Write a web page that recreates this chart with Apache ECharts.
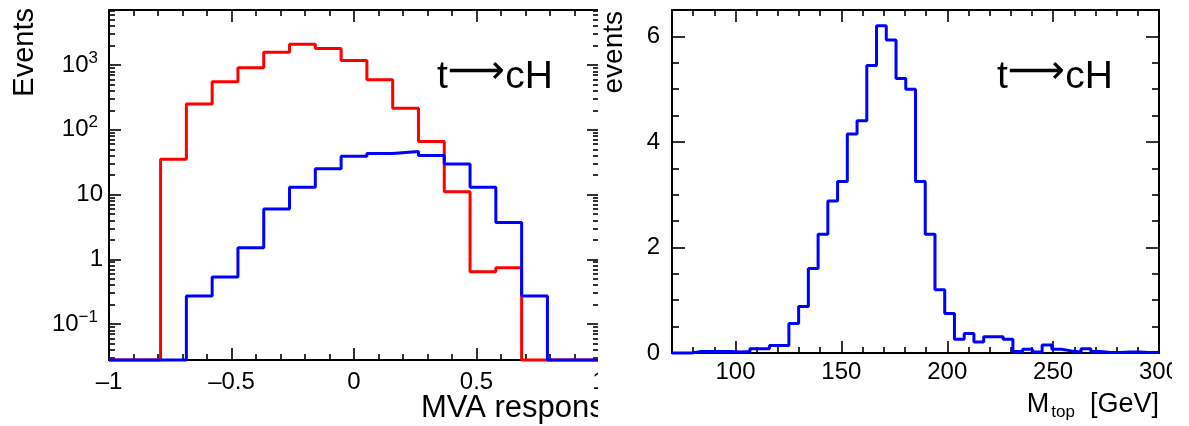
<!DOCTYPE html>
<html>
<head>
<meta charset="utf-8">
<script src="https://cdn.jsdelivr.net/npm/echarts@6/dist/echarts.min.js"></script>
<style>
  html, body { margin: 0; padding: 0; background: #fff; }
  #wrapL { position: absolute; left: 0; top: 0; width: 598px; height: 426px; overflow: hidden; }
  #wrapR { position: absolute; left: 598px; top: 0; width: 574px; height: 426px; overflow: hidden; }
  #mva  { width: 680px; height: 426px; }
  #mtop { width: 640px; height: 426px; }
</style>
</head>
<body>
<div id="wrapL"><div id="mva"></div></div>
<div id="wrapR"><div id="mtop"></div></div>
<script>
// ---- MVA response: 19 equal bins over [-1, 1] ----
const mvaRange = [-1, 1];
const mvaBackground = [0, 0, 35, 250, 550, 910, 1570, 2100, 1800, 1170, 590, 215, 66, 11, 0.64, 0.74, 0, 0, 0];
const mvaSignal     = [0, 0, 0, 0.27, 0.53, 1.5, 6.0, 13, 25, 39, 43, 46, 40, 29.5, 13, 3.7, 0.27, 0, 0];
const mvaTicks   = [-1, -0.5, 0, 0.5, 1];
const logDecades = [-1, 0, 1, 2, 3];
const logRange   = [-1.556, 3.85];   // log10(Events) shown on the vertical axis

// ---- Reconstructed top mass: 50 equal bins over [70, 300] GeV ----
const mtopRange = [70, 300];
const mtopEvents = [
  0, 0, 0.03, 0.03, 0.03, 0.03, 0.02, 0.03, 0.08, 0.08,
  0.14, 0.14, 0.56, 0.88, 1.6, 2.25, 2.88, 3.25, 4.15, 4.4,
  5.45, 6.2, 5.93, 5.2, 5.0, 3.25, 2.25, 1.2, 0.75, 0.26,
  0.37, 0.21, 0.31, 0.31, 0.26, 0.03, 0.07, 0.02, 0.15, 0.07,
  0.04, 0.02, 0.08, 0.03, 0.01, 0.01, 0.02, 0.02, 0.01, 0.01
];
const mtopTicks  = [100, 150, 200, 250, 300];
const mtopMinorStep = 10;
const eventTicks = [0, 2, 4, 6];
const eventRange = [0, 6.5];
const eventMinorStep = 0.5;

const FONT = 'Liberation Sans';
const BLACK = '#000';
const LABEL_SIZE = 24;

// Outline of a histogram as a stepped polyline through the bin edges.
function stepData(range, values, transform) {
  const n = values.length;
  const w = (range[1] - range[0]) / n;
  const pts = values.map((v, k) => [range[0] + k * w, transform(v)]);
  pts.push([range[1], transform(values[n - 1])]);
  return pts;
}
const toLog = v => (v > 0 ? Math.log10(v) : logRange[0]);
const identity = v => v;

function histSeries(data, color) {
  return {
    type: 'line', step: 'end', data, symbol: 'none', showSymbol: false,
    clip: false, silent: true, animation: false,
    lineStyle: { color, width: 3 }, z: 3
  };
}

// Axis factory: frame line, inward ticks at given values, optional labels.
function frameAxis(position, range, ticks, len, opts) {
  opts = opts || {};
  return {
    type: 'value', position, min: range[0], max: range[1],
    axisLine: { show: !!opts.line, onZero: false, lineStyle: { color: BLACK, width: 2 } },
    axisTick: { show: true, inside: true, length: len, customValues: ticks,
                lineStyle: { color: BLACK, width: 1.6 } },
    axisLabel: opts.labels ? Object.assign({
      show: true, customValues: ticks, color: BLACK, fontSize: LABEL_SIZE, fontFamily: FONT
    }, opts.labels) : { show: false },
    splitLine: { show: false },
    z: 1
  };
}

function rangeSteps(range, step, skip) {
  const out = [];
  for (let v = range[0] + step; v < range[1] + 1e-9; v += step) {
    const r = Math.round(v * 1000) / 1000;
    if (!skip.some(s => Math.abs(s - r) < 1e-9)) out.push(r);
  }
  return out;
}

// "t→cH" process tag, with a long arrow
function processTag(x, y) {
  return {
    type: 'text', x, y,
    style: {
      text: '{t|t}{a|\u27F6}{t|cH}', textAlign: 'left', textVerticalAlign: 'middle',
      rich: {
        t: { fontSize: 39, fontFamily: FONT, fill: BLACK },
        a: { fontSize: 40, fontFamily: 'DejaVu Sans', fill: BLACK, padding: [0, 0, 9, 0] }
      }
    }
  };
}

// ================= left: MVA response (log scale) =================
const mvaMinor = rangeSteps(mvaRange, 0.1, mvaTicks).filter(v => v > mvaRange[0]);
const logMinor = [];
for (let d = -2; d <= 3; d++) {
  for (let k = 2; k <= 9; k++) {
    const v = d + Math.log10(k);
    if (v > logRange[0] && v < logRange[1]) logMinor.push(v);
  }
}
const decadeText = {
  '-1': '{b|10}{s|\u22121}{g|}',
  '0': '{b|1}',
  '1': '{b|10}',
  '2': '{b|10}{s|2}{g|}',
  '3': '{b|10}{s|3}{g|}'
};
const decadeRich = {
  b: { fontSize: LABEL_SIZE, fontFamily: FONT, color: BLACK },
  s: { fontSize: 17, fontFamily: FONT, color: BLACK, padding: [0, 0, 14, 0] },
  g: { width: 5 }
};

const mvaChart = echarts.init(document.getElementById('mva'), null, { renderer: 'canvas' });
mvaChart.setOption({
  animation: false,
  backgroundColor: '#fff',
  grid: { left: 109, top: 10, width: 490, height: 350, containLabel: false },
  xAxis: [
    frameAxis('bottom', mvaRange, mvaTicks, 12, {
      line: true,
      labels: { margin: 10, formatter: v => String(v).replace('-', '\u2013') }
    }),
    frameAxis('bottom', mvaRange, mvaMinor, 6),
    frameAxis('top', mvaRange, mvaTicks, 12, { line: true }),
    frameAxis('top', mvaRange, mvaMinor, 6)
  ],
  yAxis: [
    frameAxis('left', logRange, logDecades, 12, {
      line: true,
      labels: { margin: 6, formatter: v => decadeText[String(Math.round(v))], rich: decadeRich }
    }),
    frameAxis('left', logRange, logMinor, 6),
    frameAxis('right', logRange, logDecades, 12, { line: true }),
    frameAxis('right', logRange, logMinor, 6)
  ],
  series: [
    histSeries(stepData(mvaRange, mvaBackground, toLog), '#ff0000'),
    histSeries(stepData(mvaRange, mvaSignal, toLog), '#0000ff')
  ],
  graphic: [
    { type: 'text', x: 25, y: 8, rotation: Math.PI / 2,
      style: { text: 'Events', font: '29px "Liberation Sans"', fill: BLACK,
               textAlign: 'right', textVerticalAlign: 'middle' } },
    { type: 'text', x: 421, y: 408,
      style: { text: 'MVA response', font: '31px "Liberation Sans"', fill: BLACK,
               textAlign: 'left', textVerticalAlign: 'middle' } },
    processTag(437, 77)
  ]
});

// ================= right: reconstructed top mass =================
const mtopMinor = rangeSteps([mtopRange[0] - mtopRange[0] % mtopMinorStep, mtopRange[1]], mtopMinorStep, mtopTicks)
  .filter(v => v > mtopRange[0] && v < mtopRange[1]);
const eventMinor = rangeSteps(eventRange, eventMinorStep, eventTicks);

const mtopChart = echarts.init(document.getElementById('mtop'), null, { renderer: 'canvas' });
mtopChart.setOption({
  animation: false,
  backgroundColor: '#fff',
  grid: { left: 74, top: 10, width: 487, height: 343, containLabel: false },
  xAxis: [
    frameAxis('bottom', mtopRange, mtopTicks, 12, { line: true, labels: { margin: 7 } }),
    frameAxis('bottom', mtopRange, mtopMinor, 6),
    frameAxis('top', mtopRange, mtopTicks, 12, { line: true }),
    frameAxis('top', mtopRange, mtopMinor, 6)
  ],
  yAxis: [
    frameAxis('left', eventRange, eventTicks, 13, { line: true, labels: { margin: 12 } }),
    frameAxis('left', eventRange, eventMinor, 7),
    frameAxis('right', eventRange, eventTicks, 13, { line: true }),
    frameAxis('right', eventRange, eventMinor, 7)
  ],
  series: [
    histSeries(stepData(mtopRange, mtopEvents, identity), '#0000ff')
  ],
  graphic: [
    { type: 'text', x: 16, y: 11, rotation: Math.PI / 2,
      style: { text: 'events', font: '28px "Liberation Sans"', fill: BLACK,
               textAlign: 'right', textVerticalAlign: 'middle' } },
    { type: 'text', x: 561, y: 405,
      style: { text: '{m|M}{sub|top}{m|  [GeV]}', textAlign: 'right', textVerticalAlign: 'middle',
               rich: { m: { fontSize: 27, fontFamily: FONT, fill: BLACK },
                       sub: { fontSize: 17, fontFamily: FONT, fill: BLACK, padding: [14, 0, 0, 2] } } } },
    processTag(399, 77)
  ]
});
</script>
</body>
</html>
